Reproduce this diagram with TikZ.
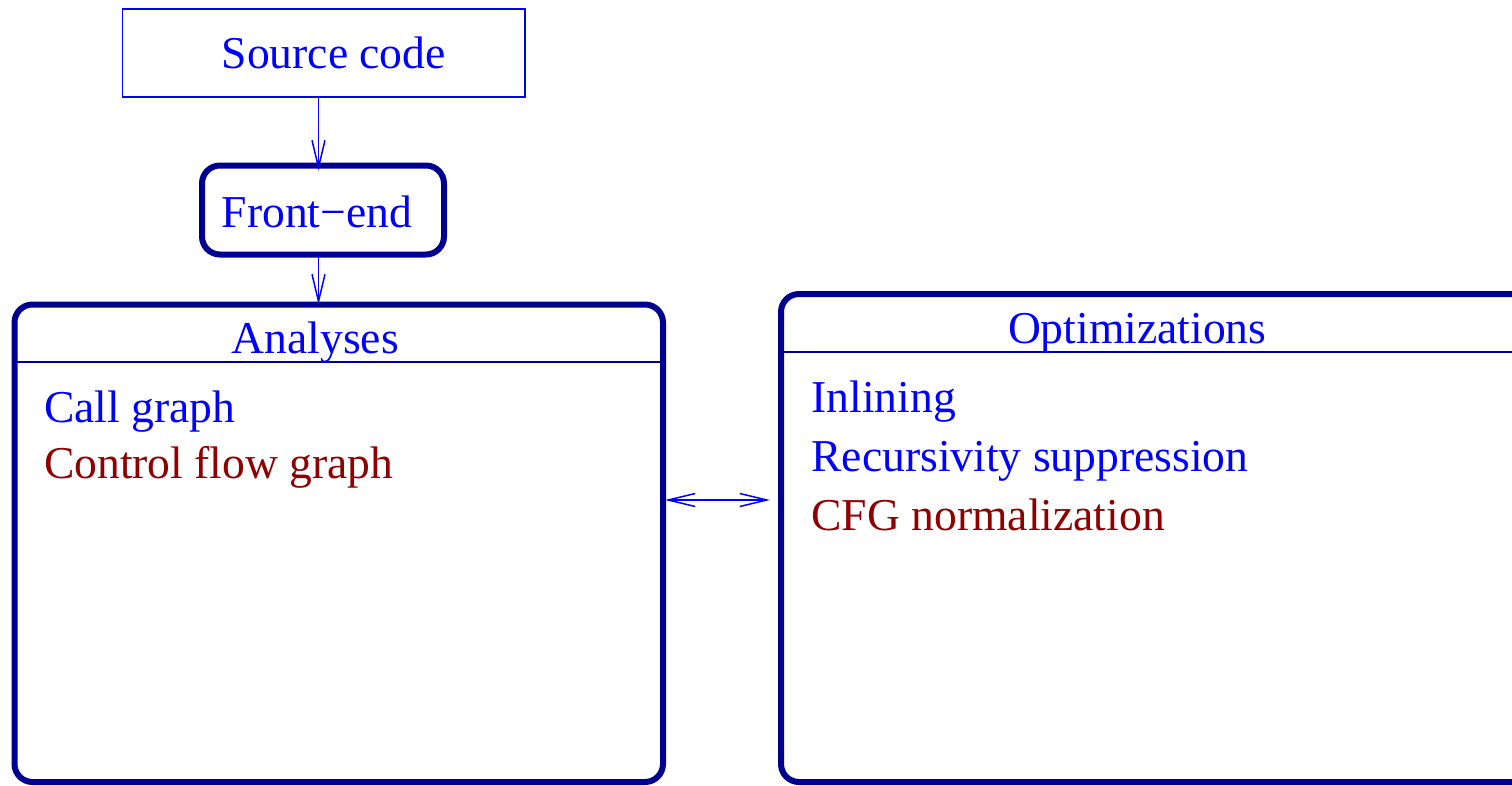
\documentclass[tikz,border=0pt]{standalone}
\usepackage{fontspec}
\setmainfont{Liberation Serif}
\usetikzlibrary{arrows.meta}

\definecolor{figblue}{RGB}{0,0,255}
\definecolor{fignavy}{RGB}{0,0,144}
\definecolor{figred}{RGB}{144,0,0}

\begin{document}
\begin{tikzpicture}[x=1pt,y=-1pt,
    every node/.style={inner sep=0pt, outer sep=0pt},
    txt/.style={anchor=base west, font=\fontsize{45.6pt}{54pt}\selectfont, text=figblue},
    redtxt/.style={txt, text=figred},
    plainbox/.style={draw=figblue, line width=1.5pt, rectangle},
    stagebox/.style={draw=fignavy, line width=6pt, rectangle, rounded corners=18pt},
    headline/.style={draw=fignavy, line width=2pt},
    flow/.style={draw=figblue, line width=1.5pt,
      -{Straight Barb[length=27pt,width=13pt,line width=1.5pt]}},
    twoway/.style={draw=figblue, line width=1.5pt,
      {Straight Barb[length=27pt,width=13pt,line width=1.5pt]}-{Straight Barb[length=27pt,width=13pt,line width=1.5pt]}}
  ]
  \clip (0,0) rectangle (1512,785);

  % boxes
  \node[plainbox, minimum width=402.5pt, minimum height=88pt] (src) at (323.75,53) {};
  \node[stagebox, minimum width=242pt, minimum height=89pt] (fe) at (323,210) {};
  \node[stagebox, minimum width=648.5pt, minimum height=477.5pt] (ana) at (338.75,543.25) {};
  \node[stagebox, minimum width=749pt, minimum height=488pt] (opt) at (1155.5,538) {};

  % header rules of the two stage panels
  \coordinate (anahead) at (0,362);
  \coordinate (opthead) at (0,352);
  \draw[headline] (ana.west |- anahead) -- (ana.east |- anahead);
  \draw[headline] (opt.west |- opthead) -- (opt.east |- opthead);

  % labels
  \node[txt] (srclbl) at (221.7,68) {Source code};
  \node[txt] (felbl) at (221.7,227) {Front−end};
  \node[txt] (analbl) at (231.7,353) {Analyses};
  \node[txt] (cg) at (44,422) {Call graph};
  \node[redtxt] (cfg) at (44,478) {Control flow graph};
  \node[txt] (optlbl) at (1008,343) {Optimizations};
  \node[txt] (inl) at (811.5,412) {Inlining};
  \node[txt] (rec) at (811.5,471) {Recursivity suppression};
  \node[redtxt] (norm) at (811.5,530) {CFG normalization};

  % connectors
  \coordinate (axis) at (318.5,0);
  \coordinate (mid) at (0,500);
  \draw[flow, shorten >=-5pt] (src.south -| axis) -- (fe.north -| axis);
  \draw[flow] (fe.south -| axis) -- (ana.north -| axis);
  \draw[twoway] ([xshift=2pt]ana.east |- mid) -- ([xshift=-11pt]opt.west |- mid);
\end{tikzpicture}
\end{document}
